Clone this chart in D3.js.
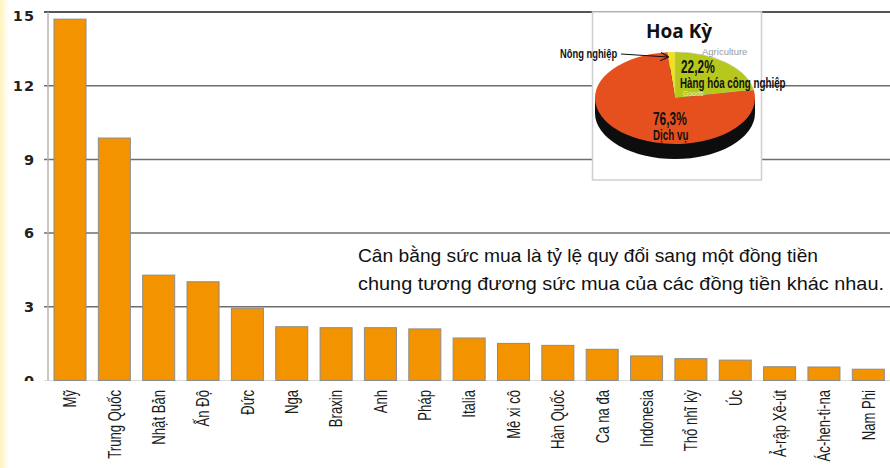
<!DOCTYPE html>
<html>
<head>
<meta charset="utf-8">
<script src="https://cdn.jsdelivr.net/npm/d3@7"></script>
<style>
  body { margin: 0; background: #fff; }
  svg { display: block; }
  .xlab { font-family: "Liberation Sans", Arial, sans-serif; font-size: 17.5px; fill: #1a1a1a; }
  .ylab { font-family: "DejaVu Sans", Verdana, sans-serif; font-weight: bold; font-size: 14.5px; fill: #222; letter-spacing: 1px; }
  .note { font-family: "Liberation Sans", Arial, sans-serif; font-size: 19px; fill: #111; }
  .pl { font-family: "Liberation Sans", Arial, sans-serif; font-weight: bold; fill: #111; }
</style>
</head>
<body>
<div class="canvas"></div>
<script>
// data
const countries = ['Mỹ', 'Trung Quốc', 'Nhật Bản', 'Ấn Độ', 'Đức', 'Nga', 'Braxin', 'Anh', 'Pháp', 'Italia',
  'Mê xi cô', 'Hàn Quốc', 'Ca na đa', 'Indonesia', 'Thổ nhĩ kỳ', 'Úc', 'Ả-rập Xê-út', 'Ác-hen-ti-na', 'Nam Phi'];
const values = [14.71, 9.87, 4.29, 4.02, 2.94, 2.19, 2.15, 2.15, 2.10, 1.73,
  1.51, 1.43, 1.27, 1.00, 0.89, 0.83, 0.56, 0.55, 0.46];
const yTicks = [0, 3, 6, 9, 12, 15];

// inset pie (USA economy structure)
const pieNames = ['Nông nghiệp', 'Hàng hóa công nghiệp', 'Dịch vụ'];
const pieValues = [1.5, 22.2, 76.3];
const pieColors = ['#f2e21b', '#b6c81c', '#e6501f'];

const noteLines = ['Cân bằng sức mua là tỷ lệ quy đổi sang một đồng tiền',
  'chung tương đương sức mua của các đồng tiền khác nhau.'];

const width = 890, height = 468;

const svg = d3.select('.canvas').append('svg')
    .attr('width', width)
    .attr('height', height);

// pale yellow strip on the left edge
const defs = svg.append('defs');
const grad = defs.append('linearGradient').attr('id', 'edge');
grad.append('stop').attr('offset', '0%').attr('stop-color', '#fff3bd');
grad.append('stop').attr('offset', '100%').attr('stop-color', '#ffffff');
svg.append('rect').attr('x', 0).attr('y', 0).attr('width', 9).attr('height', height).attr('fill', 'url(#edge)');

defs.append('clipPath').attr('id', 'yclip')
  .append('rect').attr('x', 0).attr('y', 0).attr('width', 48).attr('height', 381);

defs.append('marker')
    .attr('id', 'arrow')
    .attr('viewBox', '0 0 10 10')
    .attr('refX', 9).attr('refY', 5)
    .attr('markerWidth', 7).attr('markerHeight', 7)
    .attr('orient', 'auto')
  .append('path')
    .attr('d', 'M0,0 L10,5 L0,10')
    .attr('fill', 'none')
    .attr('stroke', '#111')
    .attr('stroke-width', 1.3);

const x = d3.scaleBand()
    .domain(countries)
    .range([48, 890.3])
    .paddingInner(0.278)
    .paddingOuter(0.135);

const y = d3.scaleLinear()
    .domain([0, 15])
    .range([380.5, 12]);

// gridlines
svg.append('g').selectAll('line')
  .data(yTicks.filter(d => d > 0))
  .join('line')
    .attr('x1', 44)
    .attr('x2', width)
    .attr('y1', d => y(d))
    .attr('y2', d => y(d))
    .attr('stroke', d => d === 15 ? '#555' : '#6e6e6e')
    .attr('stroke-width', d => d === 15 ? 2 : 1.5);

// x baseline
svg.append('line')
    .attr('x1', 44).attr('x2', width)
    .attr('y1', y(0)).attr('y2', y(0))
    .attr('stroke', '#dcdcdc');

// y axis line
svg.append('line')
    .attr('x1', 48).attr('x2', 48)
    .attr('y1', y(15)).attr('y2', y(0))
    .attr('stroke', '#b5b5b5')
    .attr('stroke-width', 1.5);

// y labels
svg.append('g')
    .attr('clip-path', 'url(#yclip)')
  .selectAll('text')
  .data(yTicks)
  .join('text')
    .attr('class', 'ylab')
    .attr('x', 35)
    .attr('y', d => Math.max(y(d), 16))
    .attr('dy', '0.36em')
    .attr('text-anchor', 'end')
    .text(d => d);

// bars
svg.append('g').selectAll('rect')
  .data(values)
  .join('rect')
    .attr('x', (d, i) => x(countries[i]))
    .attr('y', d => y(d))
    .attr('width', x.bandwidth())
    .attr('height', d => y(0) - y(d))
    .attr('fill', '#f39300')
    .attr('stroke', '#8c8c8c')
    .attr('stroke-width', 1);

// category labels, rotated and squeezed to a narrow look
svg.append('g').selectAll('text')
  .data(countries)
  .join('text')
    .attr('class', 'xlab')
    .attr('transform', d => `translate(${x(d) + x.bandwidth() / 2}, 390) rotate(-90) scale(0.75, 1)`)
    .attr('dy', '0.36em')
    .attr('text-anchor', 'end')
    .text(d => d);

// note text
svg.append('g').selectAll('text')
  .data(noteLines)
  .join('text')
    .attr('class', 'note')
    .attr('x', 358)
    .attr('y', (d, i) => 262 + i * 28)
    .attr('textLength', (d, i) => i === 0 ? 460 : 526)
    .attr('lengthAdjust', 'spacingAndGlyphs')
    .text(d => d);

// ---- inset box with the pie ----
const inset = svg.append('g');
inset.append('rect')
    .attr('x', 592.5).attr('y', 12)
    .attr('width', 169).attr('height', 168)
    .attr('fill', '#fff')
    .attr('stroke', '#cfcfcf')
    .attr('stroke-width', 1.5);

inset.append('text')
    .attr('x', 679).attr('y', 38)
    .attr('text-anchor', 'middle')
    .attr('font-family', '"Open Sans", sans-serif')
    .attr('font-weight', 'bold')
    .attr('font-size', 19)
    .attr('fill', '#111')
    .text('Hoa Kỳ');

const cx = 675, cy = 98, rx = 80, ry = 46, depth = 15;

// side of the 3d pie
inset.append('ellipse')
    .attr('cx', cx).attr('cy', cy + depth)
    .attr('rx', rx).attr('ry', ry)
    .attr('fill', '#0d0d0d');
inset.append('rect')
    .attr('x', cx - rx).attr('y', cy)
    .attr('width', rx * 2).attr('height', depth)
    .attr('fill', '#0d0d0d');

const pie = d3.pie()
    .sort(null)
    .startAngle(-2 * Math.PI * pieValues[0] / 100)
    .endAngle(2 * Math.PI - 2 * Math.PI * pieValues[0] / 100);

const arc = d3.arc().innerRadius(0).outerRadius(rx);

inset.append('g')
    .attr('transform', `translate(${cx}, ${cy}) scale(1, ${ry / rx})`)
  .selectAll('path')
  .data(pie(pieValues))
  .join('path')
    .attr('d', arc)
    .attr('fill', (d, i) => pieColors[i])
    .attr('stroke', (d, i) => i === 1 ? '#c9c9b0' : 'none')
    .attr('stroke-width', 0.8);

// faint original english labels
inset.append('text')
    .attr('x', 702).attr('y', 55)
    .attr('font-family', '"Liberation Sans", Arial, sans-serif')
    .attr('font-size', 9.5)
    .attr('fill', '#9a9a9a')
    .text('Agriculture');
inset.append('text')
    .attr('x', 683).attr('y', 96)
    .attr('font-family', '"Liberation Sans", Arial, sans-serif')
    .attr('font-size', 7)
    .attr('fill', '#e3eab8')
    .text('Goods');

// vietnamese labels
const pieText = (tx, ty, size, sx, txt) => inset.append('text')
    .attr('class', 'pl')
    .attr('transform', `translate(${tx}, ${ty}) scale(${sx}, 1)`)
    .attr('font-size', size)
    .text(txt);

const pct = v => d3.format('.1f')(v).replace('.', ',') + '%';
pieText(681, 73, 17.5, 0.68, pct(pieValues[1]));
pieText(680, 88, 14, 0.7, pieNames[1]);
pieText(653, 125, 17.5, 0.68, pct(pieValues[2]));
pieText(653, 140, 14, 0.7, pieNames[2]);
pieText(560, 58, 13, 0.72, pieNames[0]);

inset.append('line')
    .attr('x1', 621).attr('y1', 54)
    .attr('x2', 668).attr('y2', 57)
    .attr('stroke', '#111')
    .attr('stroke-width', 1.2)
    .attr('marker-end', 'url(#arrow)');
</script>
</body>
</html>
